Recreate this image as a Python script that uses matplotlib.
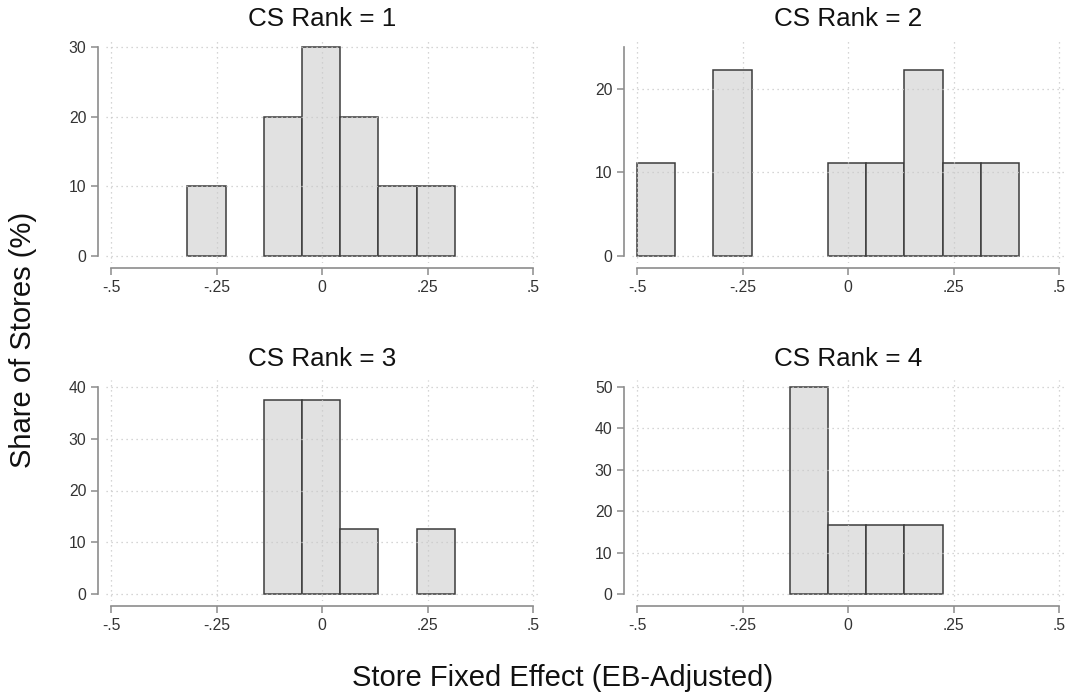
import matplotlib
matplotlib.use("Agg")
import matplotlib.pyplot as plt
import numpy as np

plt.rcParams["font.family"] = ["Liberation Sans", "DejaVu Sans"]

# histogram data: common bins, share of stores (%) per bin
bin_start = -0.5
bin_width = 0.0905
n_bins = 10
rank1 = [0, 0, 10, 0, 20, 30, 20, 10, 10, 0]
rank2 = [11.11, 0, 22.22, 0, 0, 11.11, 11.11, 22.22, 11.11, 11.11]
rank3 = [0, 0, 0, 0, 37.5, 37.5, 12.5, 0, 12.5, 0]
rank4 = [0, 0, 0, 0, 50, 16.67, 16.67, 16.67, 0, 0]
titles = ["CS Rank = 1", "CS Rank = 2", "CS Rank = 3", "CS Rank = 4"]
y_max = [30, 25, 40, 50]
y_ticks = [[0, 10, 20, 30], [0, 10, 20], [0, 10, 20, 30, 40], [0, 10, 20, 30, 40, 50]]
x_ticks = [-0.5, -0.25, 0, 0.25, 0.5]
x_labels = ["-.5", "-.25", "0", ".25", ".5"]

FILL = "#e1e1e1"; EDGE = "#3c3c3c"; AXC = "#8c8c8c"; GRID = "#c8c8c8"; TXT = "#333333"

W, H = 1067, 692
fig = plt.figure(figsize=(W / 100, H / 100), dpi=100)
fig.patch.set_facecolor("white")

XL = (-0.512, 0.512)
PXU = 422.0  # px per data unit on x
boxes = [(106, 40, 263), (632, 40, 263), (106, 380, 601), (632, 380, 601)]  # left, top, bottom

edges = bin_start + bin_width * np.arange(n_bins)
for i, vals in enumerate([rank1, rank2, rank3, rank4]):
    left, top, bot = boxes[i]
    wpx = (XL[1] - XL[0]) * PXU
    hpx = bot - top
    ax = fig.add_axes([left / W, 1 - bot / H, wpx / W, hpx / H])
    pad = 7.0 / (hpx - 14) * y_max[i]
    vals = np.asarray(vals, dtype=float)
    keep = vals > 0
    ax.bar(edges[keep], vals[keep], width=bin_width, align="edge", color=FILL,
           edgecolor=EDGE, linewidth=1.1, zorder=1)
    ax.set_xlim(*XL)
    ax.set_ylim(-pad, y_max[i] + pad)
    ax.set_xticks(x_ticks)
    ax.set_xticklabels(x_labels)
    ax.set_yticks(y_ticks[i])
    ax.set_axisbelow(False)
    ax.grid(True, linestyle=(0, (1, 3)), color=GRID, linewidth=0.9)
    for s in ("top", "right"):
        ax.spines[s].set_visible(False)
    ax.spines["left"].set_position(("outward", 6))
    ax.spines["bottom"].set_position(("outward", 3.5))
    ax.spines["left"].set_bounds(0, y_max[i])
    ax.spines["bottom"].set_bounds(-0.5, 0.5)
    for s in ("left", "bottom"):
        ax.spines[s].set_color(AXC)
        ax.spines[s].set_linewidth(1.2)
    ax.tick_params(axis="both", direction="out", length=5, width=1.1,
                   color=AXC, labelcolor=TXT, labelsize=11.3)
    ax.tick_params(axis="x", pad=4)
    ax.tick_params(axis="y", pad=3)
    ax.set_title(titles[i], fontsize=18.7, pad=10, color="#111111")

fig.text(563 / W, 1 - 678 / H, "Store Fixed Effect (EB-Adjusted)", ha="center",
         va="center", fontsize=21, color="#111111")
fig.text(23 / W, 1 - 340 / H, "Share of Stores (%)", ha="center", va="center",
         rotation=90, fontsize=21, color="#111111")

fig.savefig("out.png", dpi=100, facecolor="white")
